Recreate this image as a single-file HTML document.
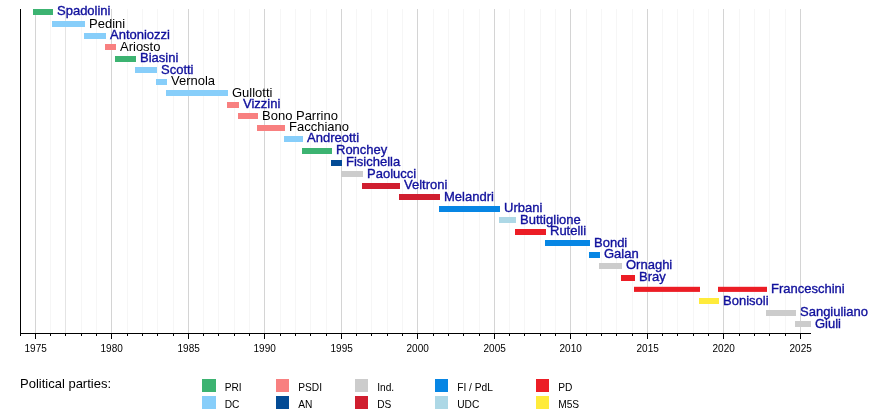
<!DOCTYPE html>
<html><head><meta charset="utf-8"><style>
html,body{margin:0;padding:0;background:#fff;}
body{width:890px;height:412px;overflow:hidden;}
svg{will-change:transform;}
svg text{font-family:"Liberation Sans",sans-serif;stroke-width:0.35px;}
</style></head><body>
<svg width="890" height="412" viewBox="0 0 890 412" style="display:block">
<rect width="890" height="412" fill="#fff"/>
<rect x="35" y="9" width="1" height="324" fill="#d4d4d4"/>
<rect x="50" y="9" width="1" height="324" fill="#f6f6f6"/>
<rect x="65" y="9" width="1" height="324" fill="#e4e4e4"/>
<rect x="81" y="9" width="1" height="324" fill="#f6f6f6"/>
<rect x="96" y="9" width="1" height="324" fill="#f6f6f6"/>
<rect x="111" y="9" width="1" height="324" fill="#d4d4d4"/>
<rect x="127" y="9" width="1" height="324" fill="#f6f6f6"/>
<rect x="142" y="9" width="1" height="324" fill="#f6f6f6"/>
<rect x="157" y="9" width="1" height="324" fill="#f6f6f6"/>
<rect x="173" y="9" width="1" height="324" fill="#f6f6f6"/>
<rect x="188" y="9" width="1" height="324" fill="#d4d4d4"/>
<rect x="203" y="9" width="1" height="324" fill="#f6f6f6"/>
<rect x="218" y="9" width="1" height="324" fill="#f6f6f6"/>
<rect x="234" y="9" width="1" height="324" fill="#f6f6f6"/>
<rect x="249" y="9" width="1" height="324" fill="#f6f6f6"/>
<rect x="264" y="9" width="1" height="324" fill="#d4d4d4"/>
<rect x="280" y="9" width="1" height="324" fill="#f6f6f6"/>
<rect x="295" y="9" width="1" height="324" fill="#f6f6f6"/>
<rect x="310" y="9" width="1" height="324" fill="#f6f6f6"/>
<rect x="326" y="9" width="1" height="324" fill="#f6f6f6"/>
<rect x="341" y="9" width="1" height="324" fill="#d4d4d4"/>
<rect x="356" y="9" width="1" height="324" fill="#f6f6f6"/>
<rect x="371" y="9" width="1" height="324" fill="#f6f6f6"/>
<rect x="387" y="9" width="1" height="324" fill="#f6f6f6"/>
<rect x="402" y="9" width="1" height="324" fill="#f6f6f6"/>
<rect x="417" y="9" width="1" height="324" fill="#d4d4d4"/>
<rect x="433" y="9" width="1" height="324" fill="#f6f6f6"/>
<rect x="448" y="9" width="1" height="324" fill="#f6f6f6"/>
<rect x="463" y="9" width="1" height="324" fill="#f6f6f6"/>
<rect x="479" y="9" width="1" height="324" fill="#f6f6f6"/>
<rect x="494" y="9" width="1" height="324" fill="#d4d4d4"/>
<rect x="509" y="9" width="1" height="324" fill="#f6f6f6"/>
<rect x="524" y="9" width="1" height="324" fill="#f6f6f6"/>
<rect x="540" y="9" width="1" height="324" fill="#f6f6f6"/>
<rect x="555" y="9" width="1" height="324" fill="#f6f6f6"/>
<rect x="570" y="9" width="1" height="324" fill="#d4d4d4"/>
<rect x="586" y="9" width="1" height="324" fill="#f6f6f6"/>
<rect x="601" y="9" width="1" height="324" fill="#f6f6f6"/>
<rect x="616" y="9" width="1" height="324" fill="#f6f6f6"/>
<rect x="632" y="9" width="1" height="324" fill="#f6f6f6"/>
<rect x="647" y="9" width="1" height="324" fill="#d4d4d4"/>
<rect x="662" y="9" width="1" height="324" fill="#f6f6f6"/>
<rect x="677" y="9" width="1" height="324" fill="#f6f6f6"/>
<rect x="693" y="9" width="1" height="324" fill="#f6f6f6"/>
<rect x="708" y="9" width="1" height="324" fill="#f6f6f6"/>
<rect x="723" y="9" width="1" height="324" fill="#d4d4d4"/>
<rect x="739" y="9" width="1" height="324" fill="#f6f6f6"/>
<rect x="754" y="9" width="1" height="324" fill="#f6f6f6"/>
<rect x="769" y="9" width="1" height="324" fill="#f6f6f6"/>
<rect x="785" y="9" width="1" height="324" fill="#f6f6f6"/>
<rect x="800" y="9" width="1" height="324" fill="#d4d4d4"/>
<rect x="33" y="9.00" width="20" height="6.0" fill="#3cb371"/>
<text x="57.0" y="15" fill="#10109c" stroke="#10109c" font-size="13">Spadolini</text>
<rect x="52" y="21.00" width="33" height="6.0" fill="#87cefa"/>
<text x="89.0" y="28" fill="#000" font-size="13">Pedini</text>
<rect x="84" y="33.00" width="22" height="6.0" fill="#87cefa"/>
<text x="110.0" y="39" fill="#10109c" stroke="#10109c" font-size="13">Antoniozzi</text>
<rect x="105" y="44.00" width="11" height="6.0" fill="#f88080"/>
<text x="120.0" y="51" fill="#000" font-size="13">Ariosto</text>
<rect x="115" y="56.00" width="21" height="6.0" fill="#3cb371"/>
<text x="140.0" y="62" fill="#10109c" stroke="#10109c" font-size="13">Biasini</text>
<rect x="135" y="67.00" width="22" height="6.0" fill="#87cefa"/>
<text x="161.0" y="74" fill="#10109c" stroke="#10109c" font-size="13">Scotti</text>
<rect x="156" y="79.00" width="11" height="6.0" fill="#87cefa"/>
<text x="171.0" y="85" fill="#000" font-size="13">Vernola</text>
<rect x="166" y="90.00" width="62" height="6.0" fill="#87cefa"/>
<text x="232.0" y="97" fill="#000" font-size="13">Gullotti</text>
<rect x="227" y="102.00" width="12" height="6.0" fill="#f88080"/>
<text x="243.0" y="108" fill="#10109c" stroke="#10109c" font-size="13">Vizzini</text>
<rect x="238" y="113.00" width="20" height="6.0" fill="#f88080"/>
<text x="262.0" y="120" fill="#000" font-size="13">Bono Parrino</text>
<rect x="257" y="125.00" width="28" height="6.0" fill="#f88080"/>
<text x="289.0" y="131" fill="#000" font-size="13">Facchiano</text>
<rect x="284" y="136.00" width="19" height="6.0" fill="#87cefa"/>
<text x="307.0" y="142" fill="#10109c" stroke="#10109c" font-size="13">Andreotti</text>
<rect x="302" y="148.00" width="30" height="6.0" fill="#3cb371"/>
<text x="336.0" y="154" fill="#10109c" stroke="#10109c" font-size="13">Ronchey</text>
<rect x="331" y="160.00" width="11" height="6.0" fill="#034b95"/>
<text x="346.0" y="166" fill="#10109c" stroke="#10109c" font-size="13">Fisichella</text>
<rect x="341" y="171.00" width="22" height="6.0" fill="#cccccc"/>
<text x="367.0" y="178" fill="#10109c" stroke="#10109c" font-size="13">Paolucci</text>
<rect x="362" y="183.00" width="38" height="6.0" fill="#d01e2f"/>
<text x="404.0" y="189" fill="#10109c" stroke="#10109c" font-size="13">Veltroni</text>
<rect x="399" y="194.00" width="41" height="6.0" fill="#d01e2f"/>
<text x="444.0" y="201" fill="#10109c" stroke="#10109c" font-size="13">Melandri</text>
<rect x="439" y="206.00" width="61" height="6.0" fill="#0786e4"/>
<text x="504.0" y="212" fill="#10109c" stroke="#10109c" font-size="13">Urbani</text>
<rect x="499" y="217.00" width="17" height="6.0" fill="#add8e6"/>
<text x="520.0" y="224" fill="#10109c" stroke="#10109c" font-size="13">Buttiglione</text>
<rect x="515" y="229.00" width="31" height="6.0" fill="#ec1d25"/>
<text x="550.0" y="235" fill="#10109c" stroke="#10109c" font-size="13">Rutelli</text>
<rect x="545" y="240.00" width="45" height="6.0" fill="#0786e4"/>
<text x="594.0" y="247" fill="#10109c" stroke="#10109c" font-size="13">Bondi</text>
<rect x="589" y="252.00" width="11" height="6.0" fill="#0786e4"/>
<text x="604.0" y="258" fill="#10109c" stroke="#10109c" font-size="13">Galan</text>
<rect x="599" y="263.00" width="23" height="6.0" fill="#cccccc"/>
<text x="626.0" y="269" fill="#10109c" stroke="#10109c" font-size="13">Ornaghi</text>
<rect x="621" y="275.00" width="14" height="6.0" fill="#ec1d25"/>
<text x="639.0" y="281" fill="#10109c" stroke="#10109c" font-size="13">Bray</text>
<rect x="634" y="286.80" width="66" height="5.1" fill="#ec1d25"/>
<rect x="718" y="286.80" width="49" height="5.1" fill="#ec1d25"/>
<text x="771.0" y="293" fill="#10109c" stroke="#10109c" font-size="13">Franceschini</text>
<rect x="699" y="298.00" width="20" height="6.0" fill="#ffeb3b"/>
<text x="723.0" y="305" fill="#10109c" stroke="#10109c" font-size="13">Bonisoli</text>
<rect x="766" y="310.00" width="30" height="6.0" fill="#cccccc"/>
<text x="800.0" y="316" fill="#10109c" stroke="#10109c" font-size="13">Sangiuliano</text>
<rect x="795" y="321.00" width="16" height="6.0" fill="#cccccc"/>
<text x="815.0" y="328" fill="#10109c" stroke="#10109c" font-size="13">Giuli</text>
<rect x="20" y="9" width="1" height="327" fill="#000"/>
<rect x="20" y="333" width="791" height="1" fill="#000"/>
<rect x="35" y="334" width="1" height="5" fill="#000"/>
<text x="35.7" y="352" font-size="10" text-anchor="middle" fill="#000">1975</text>
<rect x="50" y="334" width="1" height="2" fill="#000"/>
<rect x="65" y="334" width="1" height="2" fill="#000"/>
<rect x="81" y="334" width="1" height="2" fill="#000"/>
<rect x="96" y="334" width="1" height="2" fill="#000"/>
<rect x="111" y="334" width="1" height="5" fill="#000"/>
<text x="111.7" y="352" font-size="10" text-anchor="middle" fill="#000">1980</text>
<rect x="127" y="334" width="1" height="2" fill="#000"/>
<rect x="142" y="334" width="1" height="2" fill="#000"/>
<rect x="157" y="334" width="1" height="2" fill="#000"/>
<rect x="173" y="334" width="1" height="2" fill="#000"/>
<rect x="188" y="334" width="1" height="5" fill="#000"/>
<text x="188.7" y="352" font-size="10" text-anchor="middle" fill="#000">1985</text>
<rect x="203" y="334" width="1" height="2" fill="#000"/>
<rect x="218" y="334" width="1" height="2" fill="#000"/>
<rect x="234" y="334" width="1" height="2" fill="#000"/>
<rect x="249" y="334" width="1" height="2" fill="#000"/>
<rect x="264" y="334" width="1" height="5" fill="#000"/>
<text x="264.7" y="352" font-size="10" text-anchor="middle" fill="#000">1990</text>
<rect x="280" y="334" width="1" height="2" fill="#000"/>
<rect x="295" y="334" width="1" height="2" fill="#000"/>
<rect x="310" y="334" width="1" height="2" fill="#000"/>
<rect x="326" y="334" width="1" height="2" fill="#000"/>
<rect x="341" y="334" width="1" height="5" fill="#000"/>
<text x="341.7" y="352" font-size="10" text-anchor="middle" fill="#000">1995</text>
<rect x="356" y="334" width="1" height="2" fill="#000"/>
<rect x="371" y="334" width="1" height="2" fill="#000"/>
<rect x="387" y="334" width="1" height="2" fill="#000"/>
<rect x="402" y="334" width="1" height="2" fill="#000"/>
<rect x="417" y="334" width="1" height="5" fill="#000"/>
<text x="417.7" y="352" font-size="10" text-anchor="middle" fill="#000">2000</text>
<rect x="433" y="334" width="1" height="2" fill="#000"/>
<rect x="448" y="334" width="1" height="2" fill="#000"/>
<rect x="463" y="334" width="1" height="2" fill="#000"/>
<rect x="479" y="334" width="1" height="2" fill="#000"/>
<rect x="494" y="334" width="1" height="5" fill="#000"/>
<text x="494.7" y="352" font-size="10" text-anchor="middle" fill="#000">2005</text>
<rect x="509" y="334" width="1" height="2" fill="#000"/>
<rect x="524" y="334" width="1" height="2" fill="#000"/>
<rect x="540" y="334" width="1" height="2" fill="#000"/>
<rect x="555" y="334" width="1" height="2" fill="#000"/>
<rect x="570" y="334" width="1" height="5" fill="#000"/>
<text x="570.7" y="352" font-size="10" text-anchor="middle" fill="#000">2010</text>
<rect x="586" y="334" width="1" height="2" fill="#000"/>
<rect x="601" y="334" width="1" height="2" fill="#000"/>
<rect x="616" y="334" width="1" height="2" fill="#000"/>
<rect x="632" y="334" width="1" height="2" fill="#000"/>
<rect x="647" y="334" width="1" height="5" fill="#000"/>
<text x="647.7" y="352" font-size="10" text-anchor="middle" fill="#000">2015</text>
<rect x="662" y="334" width="1" height="2" fill="#000"/>
<rect x="677" y="334" width="1" height="2" fill="#000"/>
<rect x="693" y="334" width="1" height="2" fill="#000"/>
<rect x="708" y="334" width="1" height="2" fill="#000"/>
<rect x="723" y="334" width="1" height="5" fill="#000"/>
<text x="723.7" y="352" font-size="10" text-anchor="middle" fill="#000">2020</text>
<rect x="739" y="334" width="1" height="2" fill="#000"/>
<rect x="754" y="334" width="1" height="2" fill="#000"/>
<rect x="769" y="334" width="1" height="2" fill="#000"/>
<rect x="785" y="334" width="1" height="2" fill="#000"/>
<rect x="800" y="334" width="1" height="5" fill="#000"/>
<text x="800.7" y="352" font-size="10" text-anchor="middle" fill="#000">2025</text>
<text x="20" y="388" font-size="13" fill="#000">Political parties:</text>
<rect x="202" y="379" width="14" height="13" fill="#3cb371"/>
<rect x="202" y="396" width="14" height="13" fill="#87cefa"/>
<text x="224.7" y="390.5" font-size="10.2" fill="#000">PRI</text>
<text x="224.7" y="407.5" font-size="10.2" fill="#000">DC</text>
<rect x="276" y="379" width="13" height="13" fill="#f88080"/>
<rect x="276" y="396" width="13" height="13" fill="#034b95"/>
<text x="298.2" y="390.5" font-size="10.2" fill="#000">PSDI</text>
<text x="298.2" y="407.5" font-size="10.2" fill="#000">AN</text>
<rect x="355" y="379" width="13" height="13" fill="#cccccc"/>
<rect x="355" y="396" width="13" height="13" fill="#d01e2f"/>
<text x="377.2" y="390.5" font-size="10.2" fill="#000">Ind.</text>
<text x="377.2" y="407.5" font-size="10.2" fill="#000">DS</text>
<rect x="435" y="379" width="13" height="13" fill="#0786e4"/>
<rect x="435" y="396" width="13" height="13" fill="#add8e6"/>
<text x="457.2" y="390.5" font-size="10.2" fill="#000">FI / PdL</text>
<text x="457.2" y="407.5" font-size="10.2" fill="#000">UDC</text>
<rect x="536" y="379" width="13" height="13" fill="#ec1d25"/>
<rect x="536" y="396" width="13" height="13" fill="#ffeb3b"/>
<text x="558.2" y="390.5" font-size="10.2" fill="#000">PD</text>
<text x="558.2" y="407.5" font-size="10.2" fill="#000">M5S</text>
</svg>
</body></html>
